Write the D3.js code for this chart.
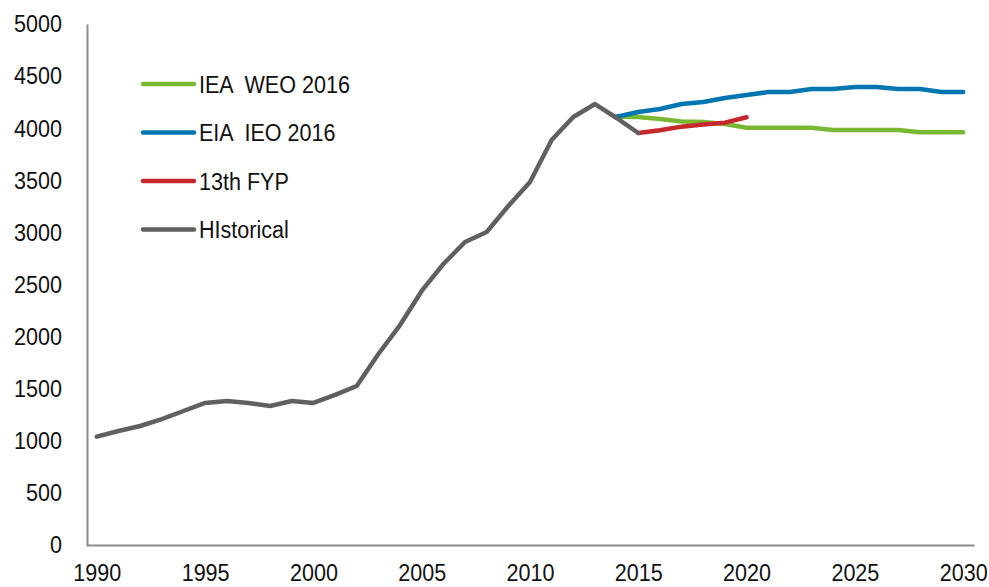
<!DOCTYPE html>
<html>
<head>
<meta charset="utf-8">
<script src="https://cdn.jsdelivr.net/npm/d3@7"></script>
<style>
  body { margin: 0; background: #fff; }
  svg text { font-family: "Liberation Sans", Arial, sans-serif; fill: #111; white-space: pre; }
</style>
</head>
<body>
<svg id="chart" width="989" height="587"></svg>
<script>
// years shown on the category axis
const years = d3.range(1990, 2031);
const tickYears = [1990, 1995, 2000, 2005, 2010, 2015, 2020, 2025, 2030];
const yTicks = [0, 500, 1000, 1500, 2000, 2500, 3000, 3500, 4000, 4500, 5000];

// historical 1990-2015
const histYears = d3.range(1990, 2016);
const histValues = [1040, 1094, 1142, 1209, 1286, 1363, 1382, 1363, 1334, 1382,
                    1363, 1440, 1526, 1833, 2111, 2438, 2697, 2908, 3004, 3253,
                    3484, 3887, 4107, 4232, 4098, 3954];

// IEA WEO 2016, 2014-2030
const weoYears = d3.range(2014, 2031);
const weoValues = [4110, 4107, 4088, 4064, 4059, 4040, 4005, 4005, 4005, 4005,
                   3983, 3983, 3983, 3983, 3961, 3961, 3961];

// EIA IEO 2016, 2014-2030
const ieoYears = d3.range(2014, 2031);
const ieoValues = [4110, 4155, 4184, 4232, 4251, 4290, 4318, 4347, 4347, 4376,
                   4376, 4395, 4395, 4376, 4376, 4347, 4347];

// 13th Five Year Plan, 2015-2020
const fypYears = d3.range(2015, 2021);
const fypValues = [3954, 3980, 4015, 4035, 4053, 4105];

const series = [
  { name: "IEA  WEO 2016", color: "#7ab833", years: weoYears, values: weoValues },
  { name: "EIA  IEO 2016", color: "#0076b0", years: ieoYears, values: ieoValues },
  { name: "13th FYP", color: "#c8282b", years: fypYears, values: fypValues },
  { name: "HIstorical", color: "#606060", years: histYears, values: histValues }
];

const svg = d3.select("#chart");
const margin = { left: 87, right: 15, top: 24, bottom: 42 };
const width = 989, height = 587;
const squeeze = 0.88; // the original uses a narrow typeface

const x = d3.scalePoint()
  .domain(years)
  .range([margin.left - 1, width - margin.right])
  .padding(0.5);

const y = d3.scaleLinear()
  .domain([0, 5000])
  .range([height - margin.bottom, margin.top]);

// y axis
const yAxis = svg.append("g")
  .attr("transform", `translate(${margin.left},0)`)
  .call(d3.axisLeft(y).tickValues(yTicks).tickFormat(d3.format("d")).tickSize(0));
yAxis.select(".domain").attr("stroke", "#8c8c8c").attr("stroke-width", 2);
yAxis.selectAll("text")
  .attr("font-size", 24.5).attr("fill", "#111")
  .attr("x", 0)
  .attr("transform", `translate(-25,0) scale(${squeeze},1)`);

// x axis
const xAxis = svg.append("g")
  .attr("transform", `translate(0,${height - margin.bottom})`)
  .call(d3.axisBottom(x).tickValues(tickYears).tickSize(0).tickPadding(19));
xAxis.select(".domain").attr("stroke", "#8c8c8c").attr("stroke-width", 2);
xAxis.selectAll("text")
  .attr("font-size", 24.5).attr("fill", "#111")
  .attr("transform", `scale(${squeeze},1)`);

const line = d3.line()
  .x(d => x(d[0]))
  .y(d => y(d[1]));

series.forEach(s => {
  svg.append("path")
    .datum(s.years.map((yr, i) => [yr, s.values[i]]))
    .attr("fill", "none")
    .attr("stroke", s.color)
    .attr("stroke-width", 4.5)
    .attr("stroke-linejoin", "round")
    .attr("stroke-linecap", "round")
    .attr("d", line);
});

// legend
const legend = svg.append("g").attr("transform", "translate(143,84)");
series.forEach((s, i) => {
  const g = legend.append("g").attr("transform", `translate(0,${i * 48.5})`);
  g.append("line")
    .attr("x1", 0).attr("x2", 51)
    .attr("stroke", s.color).attr("stroke-width", 4.5)
    .attr("stroke-linecap", "round");
  g.append("text")
    .attr("transform", `translate(56,0) scale(${squeeze},1)`)
    .attr("dy", "0.35em")
    .attr("font-size", 24.5)
    .text(s.name);
});
</script>
</body>
</html>
